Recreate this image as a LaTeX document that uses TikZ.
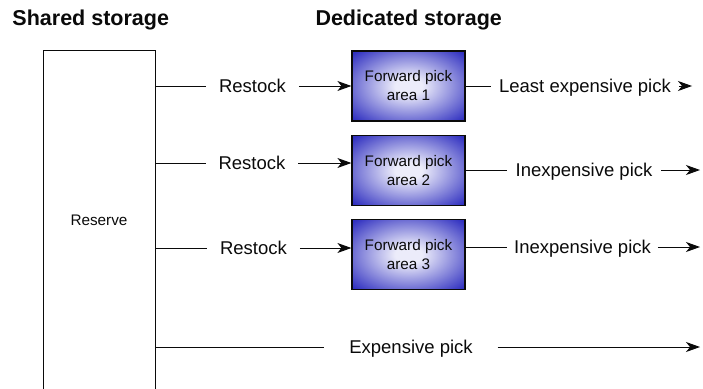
\documentclass[tikz,border=0pt]{standalone}
\usepackage{fontspec}
\setmainfont{Liberation Sans}
\usetikzlibrary{arrows.meta}
\definecolor{fpin}{HTML}{ECECFA}
\definecolor{fpout}{HTML}{3030C0}
\definecolor{ink}{HTML}{0A0A0A}
\pgfdeclareradialshading{fpshade}{\pgfpoint{0bp}{0bp}}{color(0bp)=(fpin); color(6bp)=(fpin); color(34bp)=(fpout); color(50bp)=(fpout)}

\begin{document}
\begin{tikzpicture}[x=1pt, y=-1pt, line width=1pt, draw=ink, >={Stealth[length=14pt, width=10pt, inset=4pt]},
    every node/.style={font=\fontsize{18.5}{22}\selectfont, text=ink},
    heading/.style={anchor=base west, inner sep=0pt, font=\bfseries\fontsize{21.5}{26}\selectfont},
    pickarea/.style={draw=ink, line width=1.2pt, shading=fpshade, minimum width=113pt, minimum height=70pt, inner sep=0pt, align=center, font=\fontsize{15.3}{19}\selectfont},
    flowlabel/.style={inner ysep=0pt, inner xsep=13pt, outer sep=0pt, text height=13pt, text depth=0pt}]
      \useasboundingbox (0,0) rectangle (703,388);
      \node[heading] (shared) at (12,25) {Shared storage};
      \node[heading] (dedicated) at (315,25) {Dedicated storage};
      \node[draw=ink, minimum width=112pt, minimum height=340pt, inner sep=0pt, font=\fontsize{15.3}{19}\selectfont] (reserve) at (99,220) {Reserve};
      \node[pickarea] (area1) at (408.5,86) {Forward pick\\area 1};
      \node[pickarea] (area2) at (408.5,170.5) {Forward pick\\area 2};
      \node[pickarea] (area3) at (408.5,254.5) {Forward pick\\area 3};
      \node[flowlabel] (restock1) at (252.5,86) {Restock};
      \node[flowlabel] (restock2) at (252,163) {Restock};
      \node[flowlabel] (restock3) at (253.5,248) {Restock};
      \node[flowlabel, inner xsep=8pt] (pick1) at (585,86) {Least expensive pick};
      \node[flowlabel, inner xsep=9pt] (pick2) at (584,170) {Inexpensive pick};
      \node[flowlabel, inner xsep=7pt] (pick3) at (582.5,247) {Inexpensive pick};
      \node[flowlabel, inner xsep=25pt] (bulk) at (411,347) {Expensive pick};
      \coordinate (end1) at (692,86);
      \coordinate (end2) at (700,170);
      \coordinate (end3) at (700,247);
      \coordinate (endbulk) at (700,347);
      \draw (reserve.east |- restock1) -- (restock1);
      \draw[->] (restock1) -- (restock1 -| area1.west);
      \draw (reserve.east |- restock2) -- (restock2);
      \draw[->] (restock2) -- (restock2 -| area2.west);
      \draw (reserve.east |- restock3) -- (restock3);
      \draw[->] (restock3) -- (restock3 -| area3.west);
      \draw (area1.east |- pick1) -- (pick1);
      \draw[->] (pick1) -- (end1);
      \draw (area2.east |- pick2) -- (pick2);
      \draw[->] (pick2) -- (end2);
      \draw (area3.east |- pick3) -- (pick3);
      \draw[->] (pick3) -- (end3);
      \draw (reserve.east |- bulk) -- (bulk);
      \draw[->] (bulk) -- (endbulk);
    \end{tikzpicture}
\end{document}
